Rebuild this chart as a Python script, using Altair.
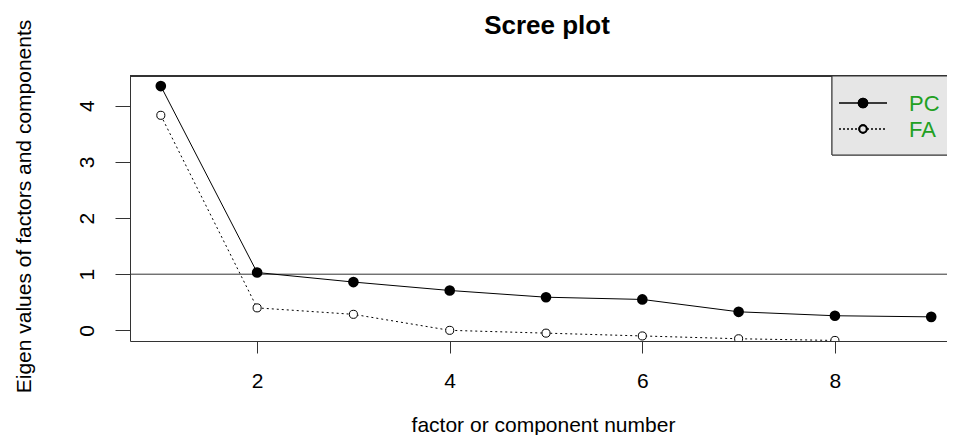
import altair as alt
import pandas as pd

# ---- data ----
factors = [1, 2, 3, 4, 5, 6, 7, 8, 9]
pc_values = [4.35, 1.03, 0.86, 0.71, 0.59, 0.55, 0.33, 0.26, 0.24]
fa_factors = [1, 2, 3, 4, 5, 6, 7, 8]
fa_values = [3.83, 0.40, 0.285, 0.0, -0.05, -0.10, -0.15, -0.18]
x_ticks = [2, 4, 6, 8]
y_ticks = [0, 1, 2, 3, 4]
threshold = [1]
legend_labels = ["PC", "FA"]
main_title = ["Scree plot"]

pc_df = pd.DataFrame({"factor": factors, "eigen": pc_values})
fa_df = pd.DataFrame({"factor": fa_factors, "eigen": fa_values})
thr_df = pd.DataFrame({"eigen": threshold})
title_df = pd.DataFrame({"t": main_title})

FONT = "Liberation Sans"
INK = "#333333"
GREEN = "#22a022"
W, H = 817, 265
X_DOMAIN = [0.68, 0.68 + W / 96.3]
Y_DOMAIN = [-0.19, 4.53]

xs = alt.Scale(domain=X_DOMAIN, nice=False, zero=False)
ys = alt.Scale(domain=Y_DOMAIN, nice=False, zero=False)

x_axis = alt.Axis(values=x_ticks, format="d", title="factor or component number", tickSize=12,
                  labelPadding=17, labelBaseline="top", labelAngle=0,
                  titleX=413, titleY=90, titleBaseline="alphabetic", titleAlign="center")
y_axis = alt.Axis(values=y_ticks, format="d", title="Eigen values of factors and components",
                  tickSize=15, labelAngle=-90, labelAlign="center", labelBaseline="alphabetic",
                  labelPadding=22, titleX=-100, titleY=130, titleAngle=-90,
                  titleBaseline="alphabetic", titleAlign="center")

X = alt.X("factor:Q", scale=xs, axis=x_axis)
Y = alt.Y("eigen:Q", scale=ys, axis=y_axis)

pc_line = alt.Chart(pc_df).mark_line(color="black", strokeWidth=1, clip=True).encode(x=X, y=Y)
fa_line = alt.Chart(fa_df).mark_line(color="black", strokeWidth=1, strokeDash=[2, 3], clip=True).encode(
    x=alt.X("factor:Q", scale=xs), y=alt.Y("eigen:Q", scale=ys))
thr = alt.Chart(thr_df).mark_rule(color=INK, strokeWidth=1).encode(y=alt.Y("eigen:Q", scale=ys))
pc_pts = alt.Chart(pc_df).mark_point(shape="circle", filled=True, fill="black", stroke="black",
                                     size=75, opacity=1, clip=True).encode(
    x=alt.X("factor:Q", scale=xs), y=alt.Y("eigen:Q", scale=ys))
fa_pts = alt.Chart(fa_df).mark_point(shape="circle", filled=False, fill="white", fillOpacity=1,
                                     stroke="black", strokeWidth=1, size=65, opacity=1, clip=True).encode(
    x=alt.X("factor:Q", scale=xs), y=alt.Y("eigen:Q", scale=ys))

top_frame = alt.Chart(pc_df).mark_rule(color=INK, strokeWidth=1).encode(
    x=alt.value(0), x2=alt.value(W), y=alt.value(0))

title_mark = alt.Chart(title_df).mark_text(
    font=FONT, fontSize=26, fontWeight="bold", color="black", align="center",
    baseline="alphabetic").encode(x=alt.value(417), y=alt.value(-42), text="t:N")

# ---- legend box (drawn by hand, like R's legend()) ----
leg_df = pd.DataFrame({"label": legend_labels})
box = alt.Chart(leg_df).mark_rect(fill="#e6e6e6", stroke=INK, strokeWidth=1).encode(
    x=alt.value(702), x2=alt.value(W + 2), y=alt.value(0), y2=alt.value(79))
pc_key_line = alt.Chart(leg_df).mark_rule(color="black", strokeWidth=1).encode(
    x=alt.value(709), x2=alt.value(757), y=alt.value(27))
fa_key_line = alt.Chart(leg_df).mark_rule(color="black", strokeWidth=1, strokeDash=[2, 2]).encode(
    x=alt.value(709), x2=alt.value(757), y=alt.value(53))
pc_key_pt = alt.Chart(leg_df).mark_point(shape="circle", filled=True, fill="black", stroke="black",
                                         size=75, opacity=1).encode(x=alt.value(733), y=alt.value(27))
fa_key_pt = alt.Chart(leg_df).mark_point(shape="circle", filled=False, fill="#e6e6e6", fillOpacity=1,
                                         stroke="black", size=55, opacity=1).encode(
    x=alt.value(733), y=alt.value(53))
pc_key_txt = alt.Chart(leg_df).transform_filter(alt.datum.label == "PC").mark_text(
    font=FONT, fontSize=22, color=GREEN, align="left", baseline="middle").encode(
    x=alt.value(779), y=alt.value(28), text="label:N")
fa_key_txt = alt.Chart(leg_df).transform_filter(alt.datum.label == "FA").mark_text(
    font=FONT, fontSize=22, color=GREEN, align="left", baseline="middle").encode(
    x=alt.value(779), y=alt.value(54), text="label:N")

chart = alt.layer(
    thr, pc_line, fa_line, pc_pts, fa_pts, top_frame, title_mark,
    box, pc_key_line, fa_key_line, pc_key_pt, fa_key_pt, pc_key_txt, fa_key_txt,
).properties(
    width=W, height=H,
    autosize=alt.AutoSizeParams(type="none"),
    padding={"left": 122, "top": 68, "right": 0, "bottom": 94},
).configure_view(stroke=None).configure_axis(
    labelFont=FONT, titleFont=FONT, labelFontSize=21, titleFontSize=21, titleFontWeight="normal",
    labelColor="black", titleColor="black", domainColor=INK, tickColor=INK, grid=False,
    domainWidth=1, tickWidth=1,
)

chart.save("out.html", embed_options={"renderer": "svg", "actions": False})
